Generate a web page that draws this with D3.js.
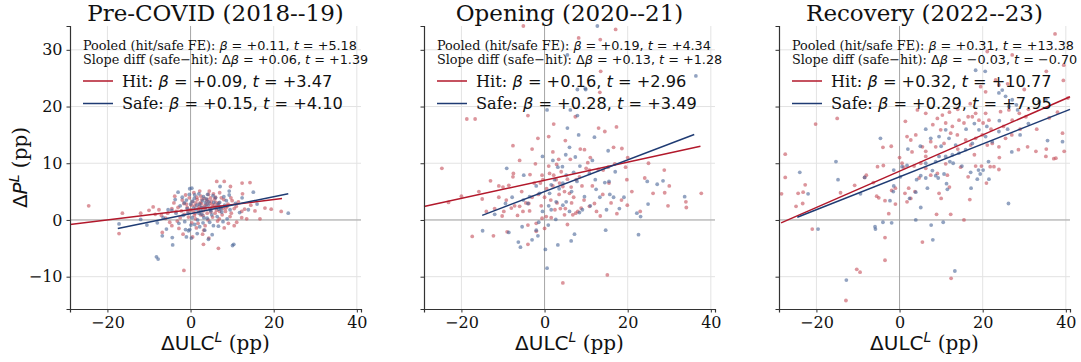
<!DOCTYPE html>
<html><head><meta charset="utf-8">
<script src="https://cdn.jsdelivr.net/npm/d3@7"></script>
<style>body{margin:0;background:#fff}svg{display:block}</style>
</head><body>
<svg id="c" width="1081" height="362"></svg>
<script>
// ---------------- DATA ----------------
const titles = ["Pre-COVID (2018--19)", "Opening (2020--21)", "Recovery (2022--23)"];
const xTicks = [-20, 0, 20, 40];
const yTicks = [-10, 0, 10, 20, 30];
const xDomain = [-29, 41];
const yDomain = [-15.7, 34.2];

const pooledBeta = ["+0.11", "+0.19", "+0.31"];
const pooledT    = ["+5.18", "+4.34", "+13.38"];
const diffBeta   = ["+0.06", "+0.13", "\u22120.03"];
const diffT      = ["+1.39", "+1.28", "\u22120.70"];
const hitBeta    = ["+0.09", "+0.16", "+0.32"];
const hitT       = ["+3.47", "+2.96", "+10.77"];
const safeBeta   = ["+0.15", "+0.28", "+0.29"];
const safeT      = ["+4.10", "+3.49", "+7.95"];

// fitted lines: [slope, intercept, xmin, xmax]
const hitFit  = [[0.09, 1.8, -29, 22], [0.16, 7.0, -29, 37.5], [0.32, 8.6, -28.5, 41]];
const safeFit = [[0.15, 1.1, -17.5, 23.5], [0.28, 5.0, -15, 36], [0.29, 7.6, -24.6, 41]];

const hit1 = [[-16.4,1.2],[-17.2,-2.4],[-24.5,2.5],[6.3,6.8],[8.1,6.8],[12.4,6.5],[14.3,6.6],[17.9,2.1],[19.4,1.9],[21.8,1.5],[16.7,0.2],[12.3,0.4],[11.1,-0.4],[9.6,5.9],[8.1,-1.4],[6.7,-5.0],[3.1,-4.3],[-1.6,-8.9],[-6.8,-2.2],[-4.5,-1.0],[-7.6,1.8],[2.2,5.1],[4.5,5.1],[3.2,-1.8],[9.1,-0.6],[-1.8,-2.5],[12.3,1.5],[12.5,4.6],[11.5,3.2],[8.5,2.1],
[-3,2.2],[-2,3.5],[-1.5,1.0],[-1,2.8],[-0.5,0.5],[0,1.8],[0.5,3.2],[1,2.5],[1.2,0.2],[1.5,4.0],[2,1.5],[2.3,3.0],[2.8,2.2],[3,0.8],[3.3,3.8],[3.8,2.7],[4,1.2],[4.3,4.5],[4.7,2.0],[5,3.3],[5.3,0.5],[5.7,2.6],[6,4.0],[6.3,1.7],[6.8,3.0],[7.2,2.3],[7.6,0.9],[8,3.6],[8.4,1.5],[9,2.8],[9.5,0.6],[10,3.4],[10.5,2.0],[-4,3.0],[-4.5,2.0],[-5.5,1.2],[-6,0.3],[-8.5,1.0],[-10,1.7],[-12,1.2],[-3.2,-0.2],[-2.5,0.4],[-1.2,4.4],[0.3,-0.5],[0.8,4.8],[1.8,-0.6],[2.5,4.2],[3.5,-1.0],[4.2,0.0],[5.5,4.6],[6.5,-0.2],[7,4.8],[-0.3,3.9],[1.1,1.2],[2.1,2.4],[3.6,1.9],[4.9,1.4],[5.8,3.7],[6.6,2.6],[7.8,2.0],[-2.2,1.6],[-0.8,2.2],[0.6,1.6],[1.6,3.6],[2.6,2.9],[3.9,3.3],[4.6,2.9],[5.1,2.1],[6.1,3.1],[7.4,3.9],[9.8,1.2],[11,2.4],[13,1.9],[14.5,2.6],[15.5,1.6],[-7,0.8],[-9,2.3],[-5,-0.4],[-3.8,4.2],[2.9,-2.5],[0.5,-3.0],[4.4,-3.2],[-2.8,-1.5],[1.4,-1.4],[10.5,-1.0],[13.5,0.2],
[1.9,2.0],[3.4,2.5],[4.1,3.6],[5.2,2.7],[6.2,2.2],[0.2,2.6],[-0.6,1.5],[2.7,3.6],[3.0,1.6],[4.8,3.9],[5.9,1.2],[7.0,1.5],[-1.6,2.9],[1.3,3.0],[2.4,0.9],[8.8,2.4],[9.7,3.9],[-3.5,1.5],[0.9,0.8],[6.9,0.2]];
const safe1 = [[-17.2,-0.7],[-8.2,-6.5],[-7.8,-6.9],[-4.4,-3.1],[-4.3,-4.4],[-4.5,1.7],[-3.0,4.9],[-0.2,5.5],[0.3,5.6],[7.1,5.9],[9.3,5.1],[15.1,4.9],[23.5,1.2],[12.4,3.9],[13.9,1.8],[10.1,-4.5],[10.4,-4.3],[5.2,-2.6],[4.3,-3.4],[0.2,-3.2],[-1.2,-1.7],[-0.5,-1.9],[-0.2,-1.7],[2.2,-1.2],[5.5,-1.0],[6.7,-1.1],[-5.8,-1.6],[-6.6,0.4],[-5.4,1.8],[9.3,4.4],
[-2.5,2.5],[-1.8,0.8],[-1,3.5],[-0.6,1.2],[0,2.8],[0.4,0.4],[0.9,3.8],[1.3,1.9],[1.7,0.0],[2.2,2.8],[2.7,1.0],[3.1,4.1],[3.5,2.2],[4.0,0.3],[4.4,3.2],[4.9,1.6],[5.4,4.3],[5.9,2.2],[6.4,0.6],[7.0,3.1],[7.5,1.4],[8.2,2.6],[8.8,0.2],[-3.5,1.2],[-2.8,-0.6],[-1.4,-0.3],[-0.3,4.5],[1.0,-0.8],[2.0,4.6],[3.0,-0.5],[3.8,3.7],[4.6,-0.4],[6.0,3.9],[7.8,-0.3],[9.5,1.8],[10.8,2.9],[-8,-0.5],[-10.5,-0.9],[-12,0.1],[-6.8,-2.8],[1.6,-2.4],[3.4,-1.8],[-1.0,-3.0],[0.7,2.1],[2.5,1.6],[4.2,2.6],[5.1,0.9],[6.8,1.9],[-2.0,4.0],[8.6,3.4],[11.8,1.3],[16.0,2.8],[-3.7,3.6],[0.1,-0.9],[2.9,3.4],
[1.5,2.6],[2.6,2.2],[3.6,3.0],[4.7,1.8],[0.5,3.3],[-0.8,2.0],[5.6,3.1],[6.6,2.8],[2.0,1.2],[3.2,0.4],[1.0,4.4],[-1.5,3.0],[7.3,2.0],[4.1,4.5],[8.0,4.1]];

const hit2 = [[-5.1,34.2],[8.2,32.1],[13.4,31.8],[17.1,33.6],[-18.7,17.8],[-16.7,17.8],[-4.0,18.4],[-7.6,13.1],[-1.6,14.4],[1.0,14.7],[2.2,16.9],[7.4,18.2],[13.0,16.2],[14.5,15.6],[17.3,16.4],[16.6,12.8],[18.6,12.6],[13.3,22.5],[13.5,26.2],[8.6,12.5],[9.6,12.4],[3.4,10.7],[6.2,10.7],[2.9,9.8],[-2.2,9.9],
[-24.7,9.1],[-23.1,3.1],[-17.4,-2.9],[-12.3,-2.8],[-15.8,5.0],[-15.0,3.7],[-13.0,6.9],[-11.0,6.0],[-10.0,5.8],[-8.6,6.1],[-7.6,7.6],[-7.5,8.2],[-9.8,1.5],[-10.2,0.7],[-9.0,-2.1],[-4.0,-4.3],[-4.0,-0.9],[-0.6,7.9],[-0.4,7.1],[1.2,8.2],[2.2,7.9],[2.8,7.1],[3.6,6.5],[4.4,5.9],[4.8,5.0],[6.0,4.7],[6.4,5.8],[7.6,7.1],[8.4,7.6],[10.0,9.1],[10.4,10.1],[10.8,8.8],[12.9,8.9],[14.1,8.8],[15.3,9.3],[16.9,9.9],[19.5,9.3],[19.8,7.1],[24.1,7.4],[26.1,4.7],[28.8,8.8],[28.9,4.8],[29.7,2.5],[34.0,3.2],[34.1,2.2],[37.7,4.7],[15.1,-9.7],[4.4,-11.1],[13.4,0.7],[17.4,1.1],[19.9,2.6],[12.0,2.9],[10.8,2.4],[8.8,2.1],[6.8,0.9],[4.8,0.9],[1.6,0.4],[0.4,0.6],[-0.6,0.3],[-2.0,-0.6],[-3.8,2.9],[-6.0,2.4],[-5.2,1.5],[-3.6,1.6],[-7.2,2.5],[-8.0,2.1],[-9.2,3.5],
[0.5,5.5],[1.5,3.5],[-1.5,4.5],[3,3],[5,2],[-2.5,6.5],[1,9.5],[-3,4],[2.5,1.8],[7,4],[9,6],[11.5,6],[-0.8,2.5],[4,8.5],[6.5,3],[-5.5,5],[-4.5,3],[3.5,4.5],[8,1.5],[14,4.5],[15.5,6.5],[21,5],[18.5,3.5],[23,1.5],[-6.5,0.8],[-12,2],[-20,4.2],[-2,-2],[0,-1.5],[5.5,-0.8],
[2,12],[-3,12.5],[5,14],[11,11],[-6,10.5],[0,4],[3.8,2],[7.5,1.2],[-1,6.5],[2,6],[5.5,7.2],[9.5,3.5],[12.5,1.5],[16,3],[-11,4],[-14,1.5],[20,11],[25,10],[30,6],[-3.5,8]];
const safe2 = [[5.5,29.1],[9.8,23.2],[36.4,25.4],[12.7,34.2],[7.9,23.0],[9.9,23.0],[0.6,19.4],[6.2,19.4],[7.9,18.4],[5.5,16.2],[8.2,15.0],[12.0,14.6],[-0.5,11.2],[5.1,11.5],[7.4,11.1],[15.3,12.2],
[-9.1,9.1],[-5.0,7.9],[-7.8,4.0],[-9.4,2.9],[-14.9,-1.9],[-8.6,-2.2],[-6.3,-3.9],[-5.8,-4.8],[-5.4,-1.2],[-2.0,-1.8],[-1.6,-2.8],[-1.4,-0.4],[0.2,-5.2],[0.6,-8.5],[0.9,-0.9],[3.2,-4.4],[6.4,-3.7],[7.2,-2.5],[14.7,-1.8],[22.6,-2.6],[22.2,1.2],[23.1,0.6],[24.9,2.8],[24.7,6.8],[27.1,6.3],[28.5,6.9],[33.7,4.1],[19.1,4.0],[16.6,4.0],[14.9,1.8],[15.7,4.5],[13.3,4.0],[12.4,5.4],[14.5,6.6],[15.5,6.8],[12.2,7.1],[10.8,8.2],[9.6,4.1],[9.1,1.8],[8.4,1.3],[6.0,1.5],[5.2,3.2],[4.4,2.6],[2.8,3.2],[2.7,0.1],[1.6,1.8],[2.4,7.1],[3.2,9.3],[4.3,9.4],[5.2,7.9],[7.0,8.4],[7.8,6.8],[4.4,6.5],[1.6,6.2],[1.2,4.7],[-1.2,4.7],[-3.6,4.1],[-4.0,2.9],[-5.1,3.5],[-3,-3.5],[11,2.5],[18,2],[-12,1],
[1,2.5],[3.5,5.5],[6.5,5],[-2,6],[8.5,9.5],[11.5,10.5],[17,8.5],[-0.5,1.5],[2,10.5],[6,12.8]];

const hit3 = [[37.4,32.8],[27.1,29.1],[35.3,26.2],[39.4,24.6],[21.1,29.7],[19.5,23.5],[20.7,22.6],[23.1,24.7],[23.9,23.8],[-15.0,17.9],[-20.2,16.9],[-27.5,11.6],[-4.0,12.8],[1.4,17.4],[4.3,19.4],[6.3,18.8],[9.1,17.9],[10.3,18.5],[11.1,17.1],[9.9,15.9],[12.7,16.5],[14.3,17.6],[15.5,17.1],[16.5,18.2],[17.5,18.2],[18.3,18.8],[19.1,17.6],[20.1,17.1],[20.7,18.8],[21.5,17.6],[24.3,19.1],[26.3,19.4],[27.1,17.6],[28.8,18.8],[30.4,18.2],[1.8,14.7],[2.7,14.1],[3.9,15.0],[5.5,12.9],[6.3,12.1],[7.5,13.8],[8.7,12.9],[10.7,13.5],[12.3,15.3],[13.9,15.0],[15.9,14.1],[17.1,13.2],[18.3,14.4],[19.9,15.0],[21.1,13.2],[22.3,13.5],[23.9,12.9],[25.5,14.4],[28.6,12.4],[30.8,12.9],[32.8,12.1],[35.2,11.2],[37.6,10.9],[39.2,15.3],[39.6,12.1],[5.1,10.0],[6.3,11.2],[39.5,27.3],[40.5,21.5],
[-28.4,4.6],[-27.5,7.5],[-24.9,2.4],[-24.4,4.7],[-23.2,4.9],[-23.3,2.9],[-22.7,6.2],[-21.0,-1.6],[-14.2,4.8],[-10.8,6.1],[-8.4,7.5],[-8.0,7.9],[-6.3,6.6],[-5.3,9.4],[-3.9,9.6],[-5.5,4.2],[-5.0,3.9],[-3.5,3.4],[-2.6,1.1],[-1.0,2.8],[-1.9,5.2],[-1.0,5.6],[-3.5,-3.1],[-3.5,-7.1],[-10.3,-8.7],[-9.5,-9.2],[-12.9,-14.2],[0.6,10.0],[1.0,9.3],[3.5,9.5],[1.3,4.7],[1.8,3.2],[2.7,3.8],[2.2,5.6],[3.7,5.0],[4.7,7.4],[5.5,-3.9],[6.3,9.1],[7.5,7.9],[9.1,8.2],[9.5,4.7],[10.0,3.8],[11.1,9.9],[11.5,7.9],[12.0,5.8],[8.9,1.0],[12.3,1.0],[12.4,-10.3],[15.5,0.0],[14.7,9.3],[16.5,7.6],[16.9,3.6],[18.3,9.5],[19.7,9.5],[20.9,6.5],[21.8,9.4],[22.7,9.4],[23.9,8.9],[35.3,12.5],[37.1,10.8],
[22,16],[25,16.5],[27,15],[29,16],[31,19.5],[33,16],[36,18],[38,19],[14,19.5],[17,20.5],[12,19],[8,16.8],[3,12],[0,11],[-2,13],[26,24],[30,23],[18,11.5],[24,11],[14,12.5]];
const safe3 = [[18.3,26.4],[20.6,26.2],[23.9,22.4],[24.7,22.9],[25.5,21.8],[27.1,21.2],[26.3,20.0],[28.1,20.3],[28.4,19.4],[33.6,20.9],[35.2,21.2],[-4.6,14.4],[-15.3,10.3],[6.3,16.0],[7.5,14.4],[9.5,14.7],[11.1,15.9],[11.9,14.4],[13.5,13.2],[14.3,11.8],[15.9,12.4],[17.5,13.5],[19.1,15.9],[20.7,14.7],[22.3,13.8],[23.9,15.6],[35.6,14.0],[39.2,13.8],[11.1,11.2],[12.7,11.5],[9.5,11.2],[8.7,10.3],[6.3,10.0],
[-24.0,8.4],[-22.0,4.6],[-19.6,-1.6],[-14.8,7.1],[-9.4,4.6],[-8.4,7.5],[-5.9,-1.2],[-5.8,-1.6],[-4.0,-0.4],[-1.9,-0.5],[-2.3,3.4],[-1.5,5.0],[-1.4,6.0],[-1.4,8.8],[0.2,7.6],[0.6,9.4],[1.8,9.6],[2.4,3.8],[3.9,0.0],[5.1,2.2],[7.6,-0.9],[8.0,-3.5],[4.1,7.1],[3.9,4.9],[5.1,7.8],[6.3,7.4],[6.7,5.6],[7.9,8.7],[8.7,7.8],[9.3,7.4],[10.7,8.1],[11.3,6.4],[11.5,5.4],[12.1,10.3],[12.9,10.0],[10.5,-0.4],[13.3,-9.0],[17.2,5.6],[-12.8,-10.6],[17.1,8.4],[18.7,7.2],[19.4,8.1],[19.0,8.8],[20.1,8.8],[21.4,10.3],[21.5,7.2],[26.2,2.9],
[16,16],[18,17],[21,16.5],[24,17.5],[26,16],[29,15],[31,17],[10,13],[5,13],[2,12.5],[27,12],[15,9.5]];

const hitPts = [hit1, hit2, hit3];
const safePts = [safe1, safe2, safe3];

// ---------------- STYLE / LAYOUT ----------------
const RED = "#b2182b", BLUE = "#1f3b73";
const RED_PT = "#c44e5a", BLUE_PT = "#4a6598";
const SERIF = "'DejaVu Serif', serif";
const SANS = "'DejaVu Sans', sans-serif";
const panelLeft = [70, 424, 779];
const W = 291, TOP = 26, H = 283;

const svg = d3.select("#c");

function rich(sel, segs) {
  segs.forEach(s => {
    const t = sel.append("tspan").text(s.t)
      .attr("font-family", s.f === "s" ? SANS : SERIF);
    if (s.i) t.attr("font-style", "italic");
    if (s.sup) t.attr("baseline-shift", "super").attr("font-size", "0.7em");
  });
}

titles.forEach((title, k) => {
  const g = svg.append("g").attr("transform", `translate(${panelLeft[k]},${TOP})`);
  const x = d3.scaleLinear().domain(xDomain).range([0, W]);
  const y = d3.scaleLinear().domain(yDomain).range([H, 0]);

  // grid
  g.append("g").selectAll("line").data(xTicks).join("line")
    .attr("x1", d => x(d)).attr("x2", d => x(d)).attr("y1", 0).attr("y2", H)
    .attr("stroke", "#e3e3e3").attr("stroke-width", 1);
  g.append("g").selectAll("line").data(yTicks).join("line")
    .attr("y1", d => y(d)).attr("y2", d => y(d)).attr("x1", 0).attr("x2", W)
    .attr("stroke", "#e3e3e3").attr("stroke-width", 1);
  // zero lines
  g.append("line").attr("x1", x(0)).attr("x2", x(0)).attr("y1", 0).attr("y2", H)
    .attr("stroke", "#a8a8a8").attr("stroke-width", 1);
  g.append("line").attr("x1", 0).attr("x2", W).attr("y1", y(0)).attr("y2", y(0))
    .attr("stroke", "#a8a8a8").attr("stroke-width", 1);

  // points
  const drawPts = (pts, col) => g.append("g").selectAll("circle").data(pts).join("circle")
    .attr("cx", d => x(d[0])).attr("cy", d => y(d[1])).attr("r", 1.9)
    .attr("fill", col).attr("fill-opacity", 0.6);
  drawPts(hitPts[k], RED_PT);
  drawPts(safePts[k], BLUE_PT);

  // fit lines
  const drawFit = (f, col) => g.append("line")
    .attr("x1", x(f[2])).attr("y1", y(f[1] + f[0] * f[2]))
    .attr("x2", x(f[3])).attr("y2", y(f[1] + f[0] * f[3]))
    .attr("stroke", col).attr("stroke-width", 1.5);
  drawFit(hitFit[k], RED);
  drawFit(safeFit[k], BLUE);

  // axes
  const xa = g.append("g").attr("transform", `translate(0,${H})`)
    .call(d3.axisBottom(x).tickValues(xTicks).tickSizeOuter(0).tickSize(3.5).tickPadding(4)
      .tickFormat(d => d < 0 ? "\u2212" + Math.abs(d) : d));
  const ya = g.append("g")
    .call(d3.axisLeft(y).tickValues(yTicks).tickSizeOuter(0).tickSize(3.5).tickPadding(4)
      .tickFormat(d => k === 0 ? (d < 0 ? "\u2212" + Math.abs(d) : d) : ""));
  [xa, ya].forEach(a => {
    a.select(".domain").attr("stroke", "#333").attr("stroke-width", 1.2);
    a.selectAll(".tick line").attr("stroke", "#333");
    a.selectAll(".tick text").attr("font-family", SERIF).attr("font-size", 16).attr("fill", "#111");
  });

  // title
  svg.append("text").attr("x", panelLeft[k] + W / 2).attr("y", 21)
    .attr("text-anchor", "middle").attr("font-family", SERIF).attr("font-size", 23)
    .attr("fill", "#111").text(title);

  // annotation
  const ax = panelLeft[k] + 13;
  const t1 = svg.append("text").attr("x", ax).attr("y", 50).attr("font-size", 12.8).attr("fill", "#111");
  rich(t1, [{t: "Pooled (hit/safe FE): "}, {t: "\u03b2", f: "s", i: 1}, {t: " = " + pooledBeta[k] + ", ", f: "s"}, {t: "t", f: "s", i: 1}, {t: " = " + pooledT[k], f: "s"}]);
  const t2 = svg.append("text").attr("x", ax).attr("y", 64).attr("font-size", 12.8).attr("fill", "#111");
  rich(t2, [{t: "Slope diff (safe\u2212hit): "}, {t: "\u0394", f: "s"}, {t: "\u03b2", f: "s", i: 1}, {t: " = " + diffBeta[k] + ", ", f: "s"}, {t: "t", f: "s", i: 1}, {t: " = " + diffT[k], f: "s"}]);

  // legend
  const legs = [["Hit: ", hitBeta[k], hitT[k], RED, 81], ["Safe: ", safeBeta[k], safeT[k], BLUE, 103.5]];
  legs.forEach(([lab, b, t, col, ly]) => {
    svg.append("line").attr("x1", ax).attr("x2", ax + 30).attr("y1", ly).attr("y2", ly)
      .attr("stroke", col).attr("stroke-width", 1.5);
    const tt = svg.append("text").attr("x", ax + 39).attr("y", ly + 5.8).attr("font-size", 16.2).attr("fill", "#111");
    rich(tt, [{t: lab}, {t: "\u03b2", f: "s", i: 1}, {t: " = " + b + ", ", f: "s"}, {t: "t", f: "s", i: 1}, {t: " = " + t, f: "s"}]);
  });

  // x label
  const xl = svg.append("text").attr("x", panelLeft[k] + W / 2).attr("y", 350)
    .attr("text-anchor", "middle").attr("font-size", 20).attr("fill", "#111");
  rich(xl, [{t: "\u0394ULC", f: "s"}, {t: "L", f: "s", i: 1, sup: 1}, {t: " (pp)"}]);
});

// y label
const yl = svg.append("text").attr("transform", `translate(27,${TOP + H / 2}) rotate(-90)`)
  .attr("text-anchor", "middle").attr("font-size", 20).attr("fill", "#111");
rich(yl, [{t: "\u0394", f: "s"}, {t: "P", f: "s", i: 1}, {t: "L", f: "s", i: 1, sup: 1}, {t: " (pp)"}]);
</script>
</body></html>
